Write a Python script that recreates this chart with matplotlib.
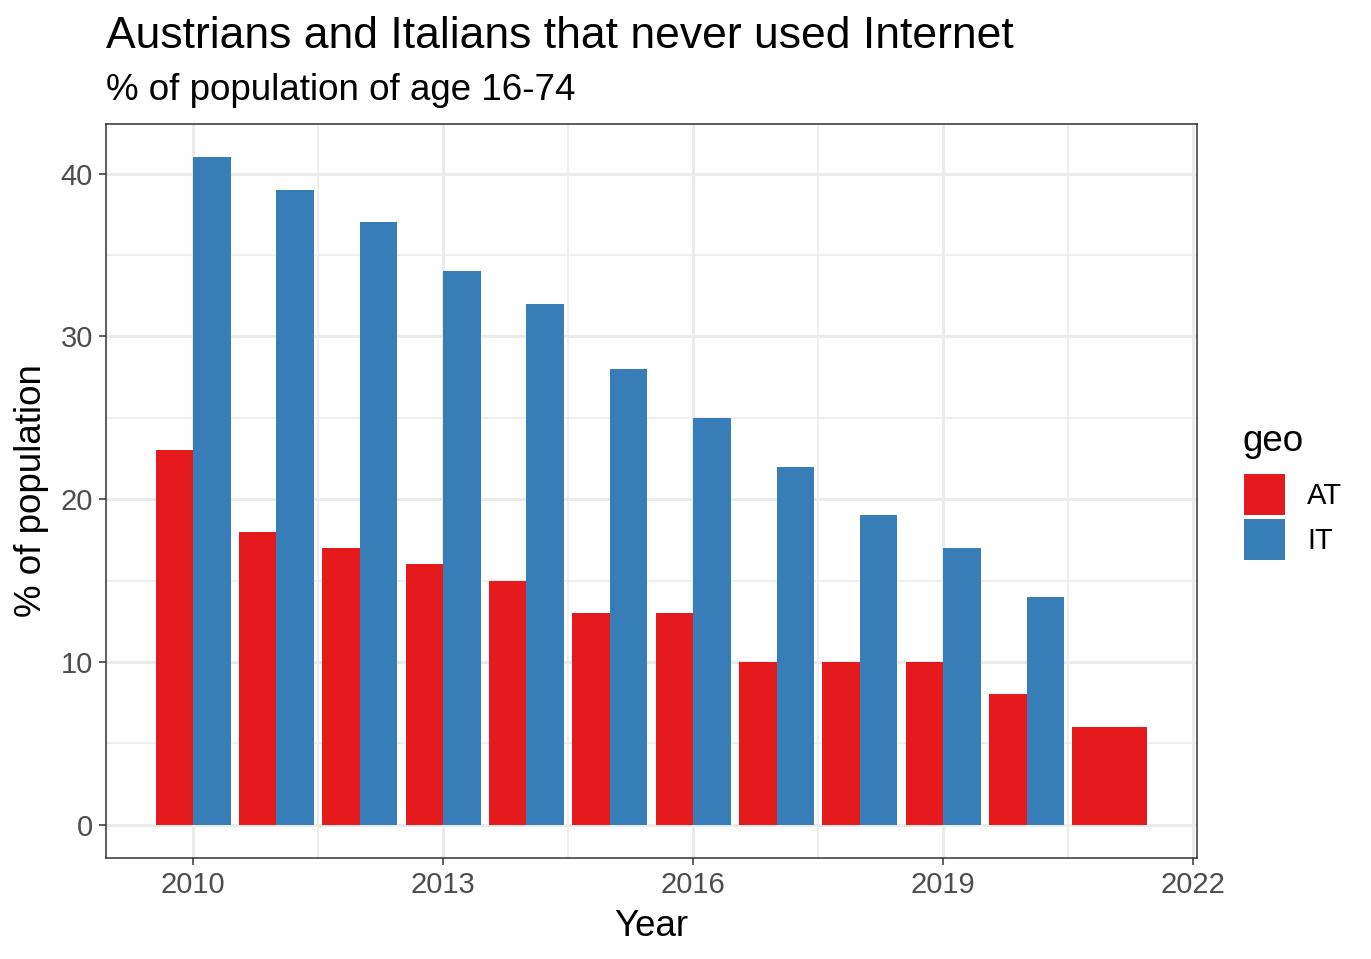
import matplotlib.pyplot as plt
import numpy as np
from matplotlib.patches import Patch

plt.rcParams['font.family'] = ['Liberation Sans', 'DejaVu Sans']

years = [2010, 2011, 2012, 2013, 2014, 2015, 2016, 2017, 2018, 2019, 2020, 2021]
at_vals = [23, 18, 17, 16, 15, 13, 13, 10, 10, 10, 8, 6]
it_vals = [41, 39, 37, 34, 32, 28, 25, 22, 19, 17, 14, None]

red = '#E41A1C'
blue = '#377EB8'
width = 0.9

fig = plt.figure(figsize=(13.71, 9.59), dpi=100)
ax = fig.add_axes([106 / 1371, 1 - 858 / 959, (1197 - 106) / 1371, (858 - 124) / 959])

# dodged bars, a lone bar takes the full width (like ggplot)
for y, a, i in zip(years, at_vals, it_vals):
    if i is None:
        ax.bar(y, a, width=width, color=red, zorder=2)
    else:
        ax.bar(y - width / 4, a, width=width / 2, color=red, zorder=2)
        ax.bar(y + width / 4, i, width=width / 2, color=blue, zorder=2)

xmin, xmax = years[0] - width / 2, years[-1] + width / 2
xpad = (xmax - xmin) * 0.05
ax.set_xlim(xmin - xpad, xmax + xpad)
ymax = max(v for v in it_vals if v is not None)
ax.set_ylim(-ymax * 0.05, ymax * 1.05)

ax.set_xticks([2010, 2013, 2016, 2019, 2022])
ax.set_xticks([2011.5, 2014.5, 2017.5, 2020.5], minor=True)
ax.set_yticks([0, 10, 20, 30, 40])
ax.set_yticks([5, 15, 25, 35], minor=True)

ax.grid(which='major', color='#EBEBEB', linewidth=2.2, zorder=0)
ax.grid(which='minor', color='#EBEBEB', linewidth=1.1, zorder=0)
ax.set_axisbelow(True)

for s in ax.spines.values():
    s.set_color('#333333')
    s.set_linewidth(1.1)

ax.tick_params(which='major', length=5, width=1.1, color='#333333',
               labelsize=21, labelcolor='#4D4D4D', pad=4.5)
ax.tick_params(which='minor', length=0)

ax.set_xlabel('Year', fontsize=26.5, labelpad=7)
ax.set_ylabel('% of population', fontsize=26.5, labelpad=8)

fig.text(106 / 1371, 1 - 48 / 959, 'Austrians and Italians that never used Internet',
         fontsize=32, ha='left', va='baseline')
fig.text(106 / 1371, 1 - 100 / 959, '% of population of age 16-74',
         fontsize=26.5, ha='left', va='baseline')

# legend title drawn separately to match ggplot spacing
fig.text(1243 / 1371, 1 - 451 / 959, 'geo', fontsize=26.5, ha='left', va='baseline')
handles = [Patch(facecolor=red, label='AT'), Patch(facecolor=blue, label='IT')]
leg = fig.legend(handles=handles, loc='upper left',
                 bbox_to_anchor=(1244 / 1371, 1 - 474 / 959), frameon=False,
                 fontsize=21, handlelength=1.42, handleheight=1.8,
                 handletextpad=0.75, labelspacing=0.12, borderaxespad=0,
                 borderpad=0)

fig.savefig('out.png', dpi=100)
